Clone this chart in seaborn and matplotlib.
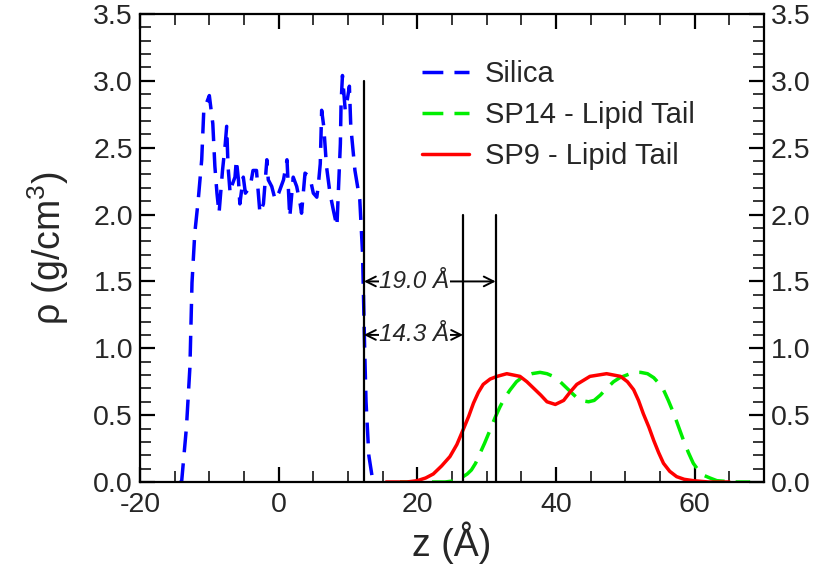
import matplotlib
matplotlib.use("Agg")
import matplotlib.pyplot as plt
from matplotlib.ticker import MultipleLocator, FormatStrFormatter
import seaborn as sns
import pandas as pd

# Density profiles along z (Å) -> rho (g/cm^3)
silica_z = [-14.3, -14.0, -13.3, -12.8, -12.5, -12.1, -11.6, -11.1, -10.8, -10.0, -9.5,
            -9.2, -8.9, -8.6, -8.1, -7.7, -7.5, -7.3, -7.0, -6.8, -6.3, -6.1, -5.8,
            -5.6, -5.1, -4.8, -4.1, -3.7, -3.2, -2.7, -2.2, -1.7, -1.5, -1.0, -0.5,
            0.0, 0.7, 1.2, 1.6, 2.1, 2.6, 3.1, 3.3, 3.8, 4.5, 5.0, 5.5, 5.7, 6.0,
            6.2, 6.5, 6.9, 7.4, 7.9, 8.4, 8.6, 8.9, 9.0, 9.2, 9.6, 9.9, 10.2, 10.4,
            11.0, 11.7, 12.1, 12.4, 12.6, 13.0, 13.6]
silica_rho = [0.0, 0.0, 0.41, 0.86, 1.49, 1.86, 2.11, 2.41, 2.78, 2.89, 2.68,
              2.36, 2.16, 2.01, 2.33, 2.53, 2.66, 2.36, 2.16, 2.21, 2.28, 2.41, 2.26,
              2.08, 2.28, 2.16, 2.21, 2.33, 2.33, 2.01, 2.08, 2.41, 2.26, 2.21, 2.11,
              2.16, 2.26, 2.41, 1.98, 2.28, 2.21, 2.08, 2.01, 2.31, 2.28, 2.16, 2.13,
              2.21, 2.38, 2.78, 2.66, 2.36, 2.16, 2.03, 1.91, 2.16, 2.53, 2.83, 3.04,
              2.78, 2.86, 2.96, 2.66, 2.33, 2.11, 1.71, 1.0, 0.6, 0.2, 0.0]

sp14_z = [17.5, 24.0, 25.5, 26.6, 27.2, 27.8, 28.4, 29.0, 29.7, 30.5, 31.2, 31.9,
          32.6, 33.4, 34.3, 35.3, 36.5, 37.7, 38.7, 39.6, 40.6, 41.6, 42.6, 43.5,
          44.7, 45.5, 46.4, 47.3, 48.3, 49.2, 50.2, 51.2, 52.2, 53.2, 54.1, 54.8,
          55.5, 56.2, 57.0, 57.7, 58.4, 59.1, 59.8, 60.5, 61.3, 62.2, 63.2, 65.6,
          68.0]
sp14_rho = [0.0, 0.0, 0.01, 0.04, 0.06, 0.09, 0.14, 0.21, 0.29, 0.39, 0.48, 0.56,
            0.63, 0.69, 0.75, 0.79, 0.81, 0.82, 0.81, 0.79, 0.75, 0.70, 0.65, 0.61,
            0.60, 0.61, 0.65, 0.70, 0.75, 0.78, 0.80, 0.82, 0.82, 0.81, 0.78, 0.74,
            0.69, 0.61, 0.51, 0.41, 0.31, 0.22, 0.14, 0.09, 0.05, 0.03, 0.01, 0.0,
            0.0]

sp9_z = [15.5, 18.5, 20.0, 21.2, 22.3, 23.5, 24.7, 25.7, 26.6, 27.4, 28.1, 28.8,
         29.5, 30.5, 31.5, 32.9, 34.8, 35.8, 36.8, 37.8, 38.7, 39.9, 41.1, 42.0,
         43.0, 44.9, 47.3, 49.3, 50.3, 51.2, 51.9, 52.6, 53.4, 54.1, 54.8, 55.5,
         56.4, 57.4, 58.5, 59.8, 62.0, 65.0]
sp9_rho = [0.0, 0.0, 0.01, 0.03, 0.06, 0.12, 0.19, 0.28, 0.39, 0.49, 0.59, 0.67,
           0.73, 0.77, 0.79, 0.81, 0.79, 0.75, 0.70, 0.65, 0.60, 0.58, 0.61, 0.67,
           0.73, 0.79, 0.81, 0.79, 0.75, 0.69, 0.61, 0.51, 0.41, 0.31, 0.22, 0.14,
           0.08, 0.04, 0.02, 0.01, 0.0, 0.0]

series_names = ["Silica", "SP14 - Lipid Tail", "SP9 - Lipid Tail"]
series_colors = ["#0000ff", "#00ee00", "#ff0000"]

# Reference markers: silica surface and the two tail offsets measured from it
silica_edge = 12.3
offset_labels = [19.0, 14.3]
marker_tops = [3.0, 2.0]
arrow_heights = [1.5, 1.1]

sns.set_style("ticks")
plt.rcParams["font.family"] = ["Liberation Sans", "DejaVu Sans"]
plt.rcParams["mathtext.fontset"] = "custom"
plt.rcParams["mathtext.rm"] = "Liberation Sans"
plt.rcParams["mathtext.it"] = "Liberation Sans:italic"
plt.rcParams["axes.unicode_minus"] = False

frames = []
for name, zs, rs in zip(series_names,
                        [silica_z, sp14_z, sp9_z],
                        [silica_rho, sp14_rho, sp9_rho]):
    frames.append(pd.DataFrame({"z": zs, "rho": rs, "series": name}))
df = pd.concat(frames, ignore_index=True)

fig = plt.figure(figsize=(8.22, 5.69), dpi=100)
ax = fig.add_axes([140 / 822, 1 - 482 / 569, 624 / 822, 468 / 569])

sns.lineplot(data=df, x="z", y="rho", hue="series", style="series",
             hue_order=series_names, style_order=series_names,
             palette=dict(zip(series_names, series_colors)),
             dashes={series_names[0]: (6, 3.2), series_names[1]: (6, 3.2),
                     series_names[2]: ""},
             linewidth=2.5, sort=False, estimator=None, ax=ax)

# Vertical reference lines
lines_x = [silica_edge, silica_edge + offset_labels[1], silica_edge + offset_labels[0]]
lines_top = [marker_tops[0], marker_tops[1], marker_tops[1]]
for xv, top in zip(lines_x, lines_top):
    ax.plot([xv, xv], [0, top], color="black", lw=1.6, zorder=4)

# Distance arrows with labels
for dist, yv in zip(offset_labels, arrow_heights):
    ax.annotate("", xy=(silica_edge + dist, yv), xytext=(silica_edge, yv),
                arrowprops=dict(arrowstyle="<->,head_length=0.5,head_width=0.25",
                                color="black", lw=1.4, shrinkA=0, shrinkB=0,
                                mutation_scale=14), zorder=5)
    ax.text(silica_edge + 7.3, yv, f"{dist:.1f} Å", style="italic", fontsize=17.5,
            ha="center", va="center", zorder=6,
            bbox=dict(facecolor="white", edgecolor="none", pad=0.3))

ax.set_xlim(-20, 70)
ax.set_ylim(0, 3.5)
ax.xaxis.set_major_locator(MultipleLocator(20))
ax.xaxis.set_minor_locator(MultipleLocator(5))
ax.yaxis.set_major_locator(MultipleLocator(0.5))
ax.yaxis.set_minor_locator(MultipleLocator(0.1))
ax.yaxis.set_major_formatter(FormatStrFormatter("%.1f"))

ax.tick_params(which="both", direction="in", top=True, right=True,
               labelright=True, labelsize=20.5, color="black")
ax.tick_params(which="major", length=11, width=1.6)
ax.tick_params(which="minor", length=8, width=1.1)
ax.tick_params(axis="x", pad=7)
ax.tick_params(axis="y", pad=5)
for sp in ax.spines.values():
    sp.set_linewidth(1.6)
    sp.set_color("black")

ax.set_xlabel("z (Å)", fontsize=27, labelpad=3)
ax.set_ylabel("ρ (g/cm$^3$)", fontsize=27, labelpad=16)

ax.legend(frameon=False, fontsize=21, loc="upper left",
          bbox_to_anchor=(422 / 822, 1 - 60 / 569),
          bbox_transform=fig.transFigure,
          handlelength=1.6, handletextpad=0.55, labelspacing=0.45,
          borderaxespad=0, borderpad=0)

fig.savefig("out.png", dpi=100)
